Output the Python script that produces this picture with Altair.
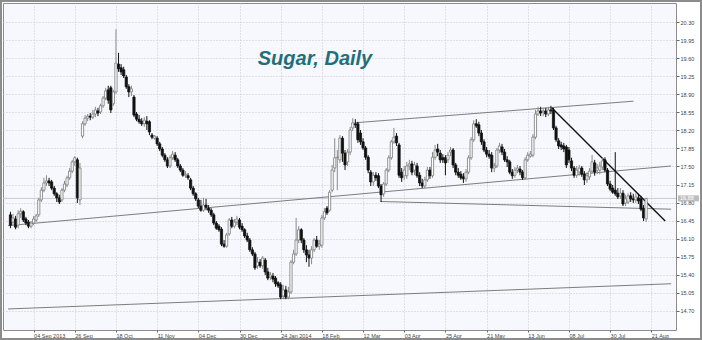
import altair as alt
import pandas as pd

# ---- data ----
OPEN = [16.56, 16.42, 16.48, 16.36, 16.58, 16.62, 16.48, 16.42, 16.34, 16.40,
        16.46, 16.56, 16.85, 17.04, 17.18, 17.22, 17.20, 17.08, 16.97, 16.89,
        16.85, 17.04, 17.14, 17.28, 17.41, 17.59, 17.63, 16.85, 18.09, 18.33,
        18.44, 18.48, 18.46, 18.52, 18.58, 18.56, 18.68, 18.83, 18.99, 19.03,
        18.72, 18.95, 19.49, 19.42, 19.38, 19.24, 19.05, 18.95, 18.85, 18.52,
        18.42, 18.38, 18.33, 18.38, 18.37, 18.11, 18.05, 18.05, 17.94, 17.84,
        17.72, 17.63, 17.51, 17.67, 17.72, 17.63, 17.51, 17.43, 17.33, 17.32,
        17.24, 17.08, 16.97, 16.85, 16.73, 16.65, 16.75, 16.69, 16.65, 16.56,
        16.40, 16.34, 16.28, 15.99, 15.95, 16.19, 16.46, 16.34, 16.42, 16.46,
        16.34, 16.27, 16.15, 16.07, 15.88, 15.80, 15.57, 15.64, 15.57, 15.68,
        15.45, 15.35, 15.37, 15.33, 15.24, 15.20, 14.98, 15.10, 14.96, 15.06,
        15.64, 15.80, 16.07, 16.27, 16.07, 15.88, 15.78, 15.72, 15.88, 16.07,
        15.95, 15.97, 16.50, 16.69, 16.65, 17.04, 17.47, 17.67, 17.63, 18.05,
        17.76, 17.59, 17.78, 18.25, 18.33, 18.33, 18.15, 17.98, 17.86, 17.68,
        17.39, 17.20, 17.33, 17.32, 17.12, 16.97, 17.16, 17.43, 17.67, 17.98,
        18.09, 17.92, 17.39, 17.32, 17.32, 17.51, 17.55, 17.43, 17.51, 17.33,
        17.18, 17.12, 17.24, 17.43, 17.32, 17.68, 17.84, 17.76, 17.67, 17.67,
        17.63, 17.78, 17.82, 17.53, 17.39, 17.35, 17.30, 17.26, 17.39, 17.67,
        18.02, 18.33, 18.31, 18.15, 17.98, 17.82, 17.74, 17.72, 17.47, 17.51,
        17.82, 17.88, 17.78, 17.63, 17.59, 17.39, 17.33, 17.43, 17.45, 17.39,
        17.28, 17.63, 17.70, 17.72, 18.07, 18.52, 18.58, 18.56, 18.58, 18.52,
        18.60, 18.60, 18.25, 18.00, 17.92, 17.90, 17.88, 17.82, 17.61, 17.47,
        17.33, 17.39, 17.47, 17.35, 17.24, 17.30, 17.41, 17.57, 17.43, 17.43,
        17.49, 17.63, 17.43, 17.16, 17.08, 17.04, 16.98, 16.93, 16.98, 16.79,
        16.81, 16.93, 16.87, 16.85, 16.89, 16.87, 16.69, 16.48]

HIGH = [16.62, 16.58, 16.54, 16.65, 16.69, 16.65, 16.52, 16.46, 16.44, 16.54,
        16.58, 16.89, 17.10, 17.28, 17.33, 17.28, 17.24, 17.12, 17.00, 16.95,
        17.08, 17.22, 17.32, 17.47, 17.63, 17.70, 17.67, 17.57, 18.38, 18.50,
        18.52, 18.54, 18.60, 18.66, 18.64, 18.72, 18.87, 19.03, 19.07, 19.07,
        18.99, 20.17, 19.71, 19.49, 19.44, 19.28, 19.10, 19.07, 18.89, 18.56,
        18.50, 18.44, 18.46, 18.48, 18.40, 18.15, 18.11, 18.09, 17.98, 17.88,
        17.76, 17.68, 17.72, 17.80, 17.78, 17.67, 17.55, 17.47, 17.41, 17.37,
        17.28, 17.12, 17.00, 16.89, 16.85, 16.89, 16.87, 16.75, 16.69, 16.60,
        16.44, 16.38, 16.32, 16.07, 16.21, 16.50, 16.52, 16.48, 16.54, 16.50,
        16.40, 16.30, 16.21, 16.11, 15.93, 15.84, 15.74, 15.70, 15.76, 15.72,
        15.53, 15.45, 15.43, 15.37, 15.27, 15.25, 15.20, 15.18, 15.16, 15.68,
        15.88, 16.50, 16.34, 16.30, 16.11, 15.97, 15.88, 15.95, 16.11, 16.15,
        16.07, 16.56, 16.69, 16.73, 17.04, 17.53, 18.05, 17.82, 18.11, 18.09,
        17.82, 17.84, 18.27, 18.44, 18.42, 18.37, 18.21, 18.05, 17.90, 17.72,
        17.43, 17.39, 17.39, 17.37, 17.16, 17.20, 17.47, 17.72, 18.02, 18.25,
        18.15, 17.96, 17.47, 17.51, 17.59, 17.63, 17.61, 17.59, 17.57, 17.39,
        17.26, 17.30, 17.49, 17.49, 17.78, 17.92, 17.94, 17.82, 17.74, 17.72,
        17.78, 17.88, 17.86, 17.57, 17.47, 17.41, 17.37, 17.45, 17.72, 18.07,
        18.40, 18.42, 18.37, 18.21, 18.03, 17.88, 17.82, 17.78, 17.57, 17.86,
        17.96, 17.94, 17.84, 17.70, 17.63, 17.45, 17.49, 17.53, 17.51, 17.43,
        17.68, 17.78, 17.80, 18.13, 18.60, 18.66, 18.66, 18.64, 18.64, 18.66,
        18.68, 18.64, 18.29, 18.05, 17.98, 17.96, 17.92, 17.88, 17.67, 17.51,
        17.51, 17.53, 17.51, 17.41, 17.39, 17.47, 17.72, 17.63, 17.55, 17.59,
        17.67, 17.68, 17.47, 17.22, 17.14, 17.78, 17.08, 17.08, 17.04, 16.95,
        16.98, 17.00, 16.97, 16.98, 16.97, 16.93, 16.75, 16.89]

LOW = [16.30, 16.34, 16.28, 16.30, 16.50, 16.42, 16.36, 16.30, 16.30, 16.36,
       16.42, 16.52, 16.81, 17.00, 17.12, 17.12, 17.04, 16.93, 16.81, 16.77,
       16.81, 17.00, 17.10, 17.24, 17.37, 17.51, 16.79, 16.75, 18.05, 18.29,
       18.38, 18.40, 18.42, 18.46, 18.48, 18.52, 18.64, 18.79, 18.72, 18.54,
       18.68, 18.91, 19.34, 19.28, 19.22, 19.01, 18.85, 18.87, 18.46, 18.38,
       18.33, 18.29, 18.27, 18.21, 18.11, 18.03, 18.02, 17.90, 17.80, 17.68,
       17.59, 17.47, 17.47, 17.63, 17.59, 17.47, 17.39, 17.30, 17.28, 17.24,
       17.04, 16.93, 16.83, 16.69, 16.62, 16.62, 16.65, 16.60, 16.52, 16.36,
       16.27, 16.23, 15.95, 15.92, 15.92, 16.15, 16.30, 16.30, 16.36, 16.28,
       16.23, 16.11, 16.03, 15.84, 15.76, 15.49, 15.51, 15.53, 15.51, 15.39,
       15.29, 15.29, 15.25, 15.16, 15.14, 14.92, 14.92, 14.92, 14.92, 15.02,
       15.60, 15.76, 16.01, 16.01, 15.82, 15.64, 15.55, 15.60, 15.84, 15.92,
       15.88, 15.92, 16.46, 16.56, 16.62, 17.00, 17.39, 17.04, 17.57, 17.59,
       17.43, 17.51, 17.72, 18.19, 18.25, 17.96, 17.92, 17.82, 17.63, 17.37,
       17.12, 17.12, 17.22, 17.08, 16.81, 16.91, 17.12, 17.39, 17.63, 17.94,
       17.90, 17.28, 17.20, 17.24, 17.26, 17.43, 17.33, 17.33, 17.28, 17.12,
       17.08, 17.08, 17.20, 17.26, 17.28, 17.63, 17.70, 17.57, 17.57, 17.33,
       17.57, 17.70, 17.47, 17.33, 17.28, 17.24, 17.18, 17.20, 17.35, 17.63,
       17.98, 18.25, 18.09, 17.92, 17.78, 17.68, 17.65, 17.39, 17.39, 17.47,
       17.76, 17.72, 17.59, 17.49, 17.35, 17.26, 17.28, 17.37, 17.33, 17.24,
       17.24, 17.59, 17.67, 17.68, 18.03, 18.48, 18.48, 18.48, 18.46, 18.48,
       18.52, 18.21, 17.98, 17.84, 17.82, 17.78, 17.47, 17.57, 17.41, 17.28,
       17.28, 17.32, 17.30, 17.14, 17.18, 17.24, 17.37, 17.32, 17.35, 17.35,
       17.43, 17.39, 17.12, 17.02, 16.97, 16.93, 16.87, 16.87, 16.73, 16.73,
       16.77, 16.81, 16.79, 16.79, 16.77, 16.63, 16.44, 16.42]

CLOSE = [16.36, 16.50, 16.32, 16.58, 16.63, 16.46, 16.40, 16.34, 16.40, 16.48,
         16.54, 16.85, 17.04, 17.18, 17.22, 17.18, 17.08, 16.97, 16.89, 16.81,
         17.04, 17.16, 17.28, 17.41, 17.59, 17.67, 16.89, 17.47, 18.33, 18.44,
         18.48, 18.46, 18.52, 18.60, 18.54, 18.68, 18.83, 18.97, 18.79, 18.60,
         18.95, 19.51, 19.40, 19.34, 19.26, 19.05, 18.95, 19.01, 18.50, 18.42,
         18.37, 18.33, 18.40, 18.33, 18.17, 18.07, 18.09, 17.94, 17.84, 17.72,
         17.63, 17.51, 17.67, 17.74, 17.63, 17.51, 17.43, 17.33, 17.35, 17.28,
         17.08, 16.97, 16.87, 16.73, 16.65, 16.75, 16.71, 16.65, 16.56, 16.40,
         16.30, 16.27, 15.99, 15.95, 16.17, 16.46, 16.34, 16.42, 16.48, 16.32,
         16.27, 16.15, 16.07, 15.88, 15.80, 15.53, 15.64, 15.57, 15.72, 15.45,
         15.33, 15.39, 15.31, 15.22, 15.18, 14.96, 15.10, 14.96, 15.06, 15.64,
         15.80, 16.07, 16.27, 16.07, 15.88, 15.78, 15.72, 15.88, 16.07, 15.95,
         15.99, 16.50, 16.62, 16.60, 17.00, 17.43, 17.67, 17.68, 18.05, 17.76,
         17.53, 17.78, 18.21, 18.35, 18.31, 18.02, 17.98, 17.86, 17.68, 17.43,
         17.20, 17.33, 17.28, 17.12, 16.95, 17.16, 17.43, 17.67, 17.98, 18.07,
         17.96, 17.33, 17.28, 17.43, 17.51, 17.55, 17.39, 17.53, 17.32, 17.18,
         17.12, 17.24, 17.43, 17.32, 17.68, 17.82, 17.78, 17.63, 17.63, 17.57,
         17.72, 17.82, 17.53, 17.39, 17.33, 17.28, 17.26, 17.39, 17.67, 18.02,
         18.33, 18.29, 18.15, 17.98, 17.82, 17.74, 17.70, 17.47, 17.51, 17.82,
         17.90, 17.78, 17.63, 17.59, 17.39, 17.32, 17.43, 17.47, 17.39, 17.28,
         17.63, 17.72, 17.74, 18.07, 18.52, 18.58, 18.54, 18.58, 18.52, 18.60,
         18.58, 18.25, 18.02, 17.90, 17.88, 17.84, 17.53, 17.63, 17.47, 17.33,
         17.43, 17.47, 17.35, 17.24, 17.32, 17.41, 17.59, 17.39, 17.47, 17.51,
         17.61, 17.43, 17.16, 17.06, 17.00, 16.97, 16.91, 16.98, 16.77, 16.87,
         16.93, 16.87, 16.85, 16.91, 16.83, 16.67, 16.50, 16.88]

# x-axis: trading-day index of each date label, and the labels
TICK_INDEX = [9, 25, 41, 57, 73, 89, 105, 121, 137, 153, 169, 185, 201, 217, 233, 249]
TICK_LABELS = ["04 Sep 2013", "26 Sep", "18 Oct", "11 Nov", "04 Dec", "30 Dec",
               "24 Jan 2014", "18 Feb", "12 Mar", "03 Apr", "25 Apr", "21 May",
               "13 Jun", "08 Jul", "30 Jul", "21 Aug"]
PRICE_TICKS = [14.70, 15.05, 15.40, 15.75, 16.10, 16.45, 16.80, 17.15, 17.50,
               17.85, 18.20, 18.55, 18.90, 19.25, 19.60, 19.95, 20.30]

# trend lines (start index, start price, end index, end price)
LINE_I1 = [-0.95, -0.95, 133.8, 143.7, 210.3]
LINE_P1 = [14.73, 16.35, 18.35, 16.82, 18.64]
LINE_I2 = [256.7, 256.7, 242.1, 256.7, 254.4]
LINE_P2 = [15.22, 17.51, 18.77, 16.67, 16.44]
LINE_COLOR = ["#7d7d7d", "#7d7d7d", "#7d7d7d", "#7d7d7d", "#111111"]
LINE_WIDTH = [1.0, 1.0, 1.0, 1.0, 1.4]

LAST_PRICE = 16.88
LAST_LABEL = "16.88"
TITLE = "Sugar, Daily"

# ---- tables ----
n = len(CLOSE)
df = pd.DataFrame({
    "i": list(range(n)),
    "open": OPEN, "high": HIGH, "low": LOW, "close": CLOSE,
})
df["dir"] = ["up" if c >= o else "down" for o, c in zip(OPEN, CLOSE)]

lines = pd.DataFrame({"i1": LINE_I1, "p1": LINE_P1, "i2": LINE_I2, "p2": LINE_P2,
                      "c": LINE_COLOR, "w": LINE_WIDTH})

W, H = 673, 327
XDOM = [-0.953, 256.66]
YDOM = [14.321, 20.679]

label_js = "[" + ",".join("'" + s + "'" for s in TICK_LABELS) + "]"
x_scale = alt.Scale(domain=XDOM, nice=False, zero=False)
y_scale = alt.Scale(domain=YDOM, nice=False, zero=False)

x_axis = alt.Axis(values=TICK_INDEX, labelExpr=f"{label_js}[round((datum.value - 9) / 16)]",
                  labelAlign="left", title=None, labelOverlap=False, labelFlush=False,
                  labelFontSize=5.5, labelColor="#444", labelFont="Liberation Sans",
                  tickColor="#666", tickSize=2, labelPadding=1, labelBaseline="top",
                  grid=True, gridColor="#c6c8d0", gridDash=[1, 2], domain=False)
y_axis = alt.Axis(orient="right", values=PRICE_TICKS, format=".2f", title=None,
                  labelOverlap=False, labelFlush=False, labelFontSize=5.5,
                  labelColor="#444", labelFont="Liberation Sans", tickColor="#666",
                  tickSize=3, labelPadding=1, labelBaseline="middle",
                  grid=True, gridColor="#c6c8d0", gridDash=[1, 2], domain=False)

base = alt.Chart(df)

grid_layer = base.mark_point(opacity=0).encode(
    x=alt.X("i:Q", scale=x_scale, axis=x_axis),
    y=alt.Y("close:Q", scale=y_scale, axis=y_axis),
)

cur_line = alt.Chart(pd.DataFrame({"p": [LAST_PRICE]})).mark_rule(
    color="#c8c8c8", strokeWidth=1).encode(y=alt.Y("p:Q", scale=y_scale, axis=None))

trend = alt.Chart(lines).mark_rule(clip=True).encode(
    x=alt.X("i1:Q", scale=x_scale, axis=None), x2="i2:Q",
    y=alt.Y("p1:Q", scale=y_scale, axis=None), y2="p2:Q",
    color=alt.Color("c:N", scale=None),
    strokeWidth=alt.StrokeWidth("w:Q", scale=None),
)

wick = base.mark_rule(strokeWidth=1).encode(
    x=alt.X("i:Q", scale=x_scale, axis=None),
    y=alt.Y("low:Q", scale=y_scale, axis=None), y2="high:Q",
    color=alt.Color("dir:N", scale=alt.Scale(domain=["up", "down"], range=["#8a8a8a", "#111111"]),
                    legend=None),
)

body = base.mark_bar(size=2.2, strokeWidth=0.8).encode(
    x=alt.X("i:Q", scale=x_scale, axis=None),
    y=alt.Y("open:Q", scale=y_scale, axis=None), y2="close:Q",
    fill=alt.Fill("dir:N", scale=alt.Scale(domain=["up", "down"], range=["#ffffff", "#111111"]),
                  legend=None),
    stroke=alt.Stroke("dir:N", scale=alt.Scale(domain=["up", "down"], range=["#7a7a7a", "#111111"]),
                      legend=None),
)

box_df = pd.DataFrame({"p": [LAST_PRICE], "lab": [LAST_LABEL]})
price_box = alt.Chart(box_df).mark_rect(color="#bdbdbd", height=6).encode(
    x=alt.value(W + 2), x2=alt.value(W + 23),
    y=alt.Y("p:Q", scale=y_scale, axis=None),
)
price_txt = alt.Chart(box_df).mark_text(align="left", baseline="middle", fontSize=5.5,
                                        color="#ffffff", font="Liberation Sans").encode(
    x=alt.value(W + 4), y=alt.Y("p:Q", scale=y_scale, axis=None), text="lab:N")

title = alt.Chart(pd.DataFrame({"t": [TITLE]})).mark_text(
    font="Liberation Sans", fontSize=20, fontWeight="bold", fontStyle="italic",
    color="#1e6f7a", align="center", baseline="middle").encode(
    x=alt.value(312), y=alt.value(56), text="t:N")

frame = alt.Chart(pd.DataFrame({"a": [0]})).mark_rect(
    fillOpacity=0, stroke="#8c8c8c", strokeWidth=2, clip=False).encode(
    x=alt.value(-2), x2=alt.value(W + 25), y=alt.value(-2), y2=alt.value(H + 9))

chart = alt.layer(grid_layer, cur_line, trend, wick, body, price_box, price_txt, title, frame).properties(
    width=W, height=H,
    padding={"left": 3, "top": 3, "right": 26, "bottom": 10},
    autosize=alt.AutoSizeParams(type="none"),
    background="#ffffff",
).resolve_axis(
    x="independent", y="independent"
).configure_view(
    stroke="#8c8c8c", strokeWidth=1, fill="#f7f8fd"
)

chart.save("out.html", embed_options={"renderer": "svg", "actions": False})
